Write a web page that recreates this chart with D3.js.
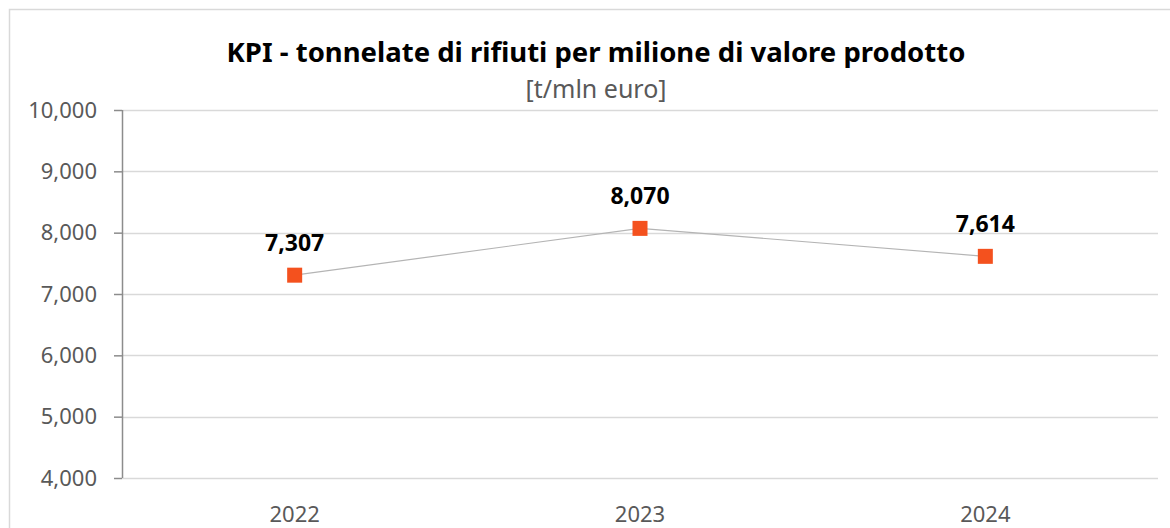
<!DOCTYPE html>
<html>
<head>
<meta charset="utf-8">
<script src="https://cdn.jsdelivr.net/npm/d3@7"></script>
<style>
  html, body { margin: 0; padding: 0; background: #fff; }
  svg { display: block; font-family: "Noto Sans", "Open Sans", sans-serif; }
</style>
</head>
<body>
<div id="chart"></div>
<script>
'use strict';

// Data
const years  = ['2022', '2023', '2024'];
const values = [7307, 8070, 7614];
const yTicks = [4000, 5000, 6000, 7000, 8000, 9000, 10000];

const title    = 'KPI - tonnelate di rifiuti per milione di valore prodotto';
const subtitle = '[t/mln euro]';

const w = 1170,
      h = 528;

const margin = {top: 110, right: 12, bottom: 50, left: 122};
const plotW = w - margin.left - margin.right,
      plotH = h - margin.top - margin.bottom;

const svg = d3.select('#chart')
    .append('svg')
    .attr('width', w)
    .attr('height', h);

// outer frame of the chart area
svg.append('rect')
    .attr('x', 9.5)
    .attr('y', 9.5)
    .attr('width', w + 20)
    .attr('height', h + 20)
    .attr('fill', '#fff')
    .attr('stroke', '#d9d9d9')
    .attr('stroke-width', 1.5);

const x = d3.scaleBand()
    .domain(years)
    .range([0, plotW]);

const y = d3.scaleLinear()
    .domain([4000, 10000])
    .range([plotH, 0]);

const g = svg.append('g')
    .attr('transform', `translate(${margin.left},${margin.top})`);

// gridlines
g.append('g')
    .selectAll('line')
    .data(yTicks)
    .enter()
    .append('line')
    .attr('x1', 0)
    .attr('x2', plotW)
    .attr('y1', d => Math.round(y(d)) + 0.5)
    .attr('y2', d => Math.round(y(d)) + 0.5)
    .attr('stroke', '#d9d9d9')
    .attr('stroke-width', 1.5);

// y axis
const yAxis = g.append('g')
    .call(d3.axisLeft(y)
        .tickValues(yTicks)
        .tickSize(8)
        .tickPadding(17)
        .tickFormat(d3.format(',')));

yAxis.select('.domain')
    .attr('stroke', '#8c8c8c')
    .attr('stroke-width', 1.5)
    .attr('d', `M0.5,${plotH}V0`);
yAxis.selectAll('.tick line')
    .attr('stroke', '#8c8c8c')
    .attr('stroke-width', 1.5);
yAxis.selectAll('.tick text')
    .attr('fill', '#595959')
    .attr('font-size', '22px')
    .attr('font-family', '"Noto Sans", "Open Sans", sans-serif');

// x labels
g.append('g')
    .selectAll('text')
    .data(years)
    .enter()
    .append('text')
    .attr('x', d => x(d) + x.bandwidth() / 2)
    .attr('y', plotH + 44)
    .attr('text-anchor', 'middle')
    .attr('fill', '#595959')
    .attr('font-size', '22px')
    .text(d => d);

// line
const pts = years.map((yr, i) => ({year: yr, value: values[i]}));

const line = d3.line()
    .x(d => x(d.year) + x.bandwidth() / 2)
    .y(d => y(d.value));

g.append('path')
    .datum(pts)
    .attr('d', line)
    .attr('fill', 'none')
    .attr('stroke', '#b4b4b4')
    .attr('stroke-width', 1.2);

// markers
const ms = 15;
g.selectAll('rect.marker')
    .data(pts)
    .enter()
    .append('rect')
    .attr('class', 'marker')
    .attr('x', d => x(d.year) + x.bandwidth() / 2 - ms / 2)
    .attr('y', d => y(d.value) - ms / 2)
    .attr('width', ms)
    .attr('height', ms)
    .attr('fill', '#f4511e');

// data labels
g.selectAll('text.lbl')
    .data(pts)
    .enter()
    .append('text')
    .attr('class', 'lbl')
    .attr('x', d => x(d.year) + x.bandwidth() / 2)
    .attr('y', d => y(d.value) - 24)
    .attr('text-anchor', 'middle')
    .attr('font-size', '23px')
    .attr('font-weight', 'bold')
    .attr('fill', '#000')
    .text(d => d3.format(',')(d.value));

// titles
svg.append('text')
    .attr('x', 596)
    .attr('y', 62)
    .attr('text-anchor', 'middle')
    .attr('font-size', '27.5px')
    .attr('font-weight', 'bold')
    .attr('fill', '#000')
    .text(title);

svg.append('text')
    .attr('x', 596)
    .attr('y', 98)
    .attr('text-anchor', 'middle')
    .attr('font-size', '25px')
    .attr('fill', '#595959')
    .text(subtitle);
</script>
</body>
</html>
